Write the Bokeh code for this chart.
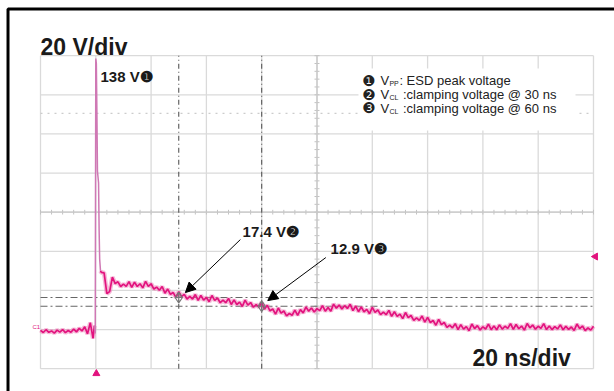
import numpy as np
from bokeh.plotting import figure
from bokeh.models import Range1d, Arrow, NormalHead
from bokeh.core.properties import value
from bokeh.embed import file_html
from bokeh.resources import INLINE

# ---------------- data ----------------
# time in ns (20 ns/div), voltage in V (20 V/div), 0 V = ground level
t_pre = list(range(-20, 0))
v_pre = [0.6, -0.5, 0.9, -0.4, 0.3, -0.8, 0.7, -0.3, 1.0, -0.6,
         0.5, -0.4, 1.2, -0.2, 1.6, 0.3, 2.4, -1.2, 4.5, -3.5]

t_spike = [-0.5, -0.2, 0.0, 0.2, 0.4, 0.6, 0.8, 1.0, 1.2, 1.4, 1.7]
v_spike = [3.0, -1.0, 139.5, 137.0, 112.0, 82.0, 79.0, 76.0, 52.0, 37.0, 31.0]

v_post = [30.2, 30.0, 19.4, 20.4, 27.8, 24.5, 25.4, 23.0,
          24.2, 23.1, 25.5, 22.6, 25.2, 23.0, 24.4, 22.3, 25.6, 23.1,
          24.4, 21.7, 22.7, 21.1, 23.0, 19.6, 21.7, 19.0, 19.9, 17.4,
          20.3, 17.8, 19.0, 16.6, 17.9, 16.6, 18.9, 15.9, 18.4, 16.1,
          17.4, 15.2, 18.4, 15.9, 17.1, 14.7, 16.0, 14.7, 16.9, 13.8,
          16.2, 13.8, 15.0, 12.8, 16.0, 13.5, 14.8, 12.4, 13.8, 12.5,
          14.8, 11.4, 13.4, 10.6, 11.5, 8.9, 12.0, 9.4, 10.5, 8.0,
          9.2, 8.3, 10.9, 8.3, 11.2, 9.5, 12.5, 10.4, 12.0, 10.0,
          11.7, 10.7, 13.2, 10.4, 12.3, 10.4, 14.0, 11.9, 13.5, 11.5,
          13.2, 11.8, 13.9, 10.7, 13.0, 10.1, 12.5, 10.1, 11.3, 9.1,
          12.3, 9.8, 11.0, 8.6, 9.9, 8.6, 10.8, 7.7, 10.1, 7.7,
          8.9, 6.6, 9.7, 7.1, 8.2, 5.7, 7.0, 5.7, 7.9, 4.8,
          7.2, 4.6, 5.6, 3.2, 6.2, 3.5, 4.6, 2.1, 3.3, 1.9,
          4.0, 1.0, 3.5, 1.2, 2.5, 0.4, 3.8, 1.5, 3.0, 0.8,
          2.4, 1.3, 3.8, 0.9, 2.8, 0.9, 3.4, 1.2, 2.7, 1.6,
          4.0, 1.1, 3.6, 1.4, 2.8, 0.7, 4.1, 1.9, 3.3, 1.2,
          2.7, 1.6, 4.0, 1.0, 2.8, 1.0, 2.5, 1.3, 3.4, 0.9,
          2.6, 1.1, 2.3, 0.5, 3.8, 1.5, 2.8, 0.5, 1.9, 0.7,
          2.7]
t_post = list(range(2, 2 + len(v_post)))

time_divs = [-20, 0, 20, 40, 60, 80, 100, 120, 140, 160, 180]
volt_divs = [-19, 1, 21, 41, 61, 81, 101, 121, 141]
center_time = 80
center_volt = 61
cursor_times = [30, 60]
cursor_volts = [17.4, 12.9]
ref_level = 111.5
trig_time = 0.2
trig_level = 38.3

title_v = "20 V/div"
title_t = "20 ns/div"
peak_label = "138 V\u2776"
cl30_label = "17.4 V\u2777"
cl60_label = "12.9 V\u2778"
legend_nums = ["\u2776", "\u2777", "\u2778"]
legend_v = ["V", "V", "V"]
legend_sub = ["PP", "CL", "CL"]
legend_txt = [": ESD peak voltage",
              "\u00a0:clamping voltage\u00a0@\u00a030 ns",
              "\u00a0:clamping voltage\u00a0@\u00a060 ns"]

# ---------------- figure ----------------
X0, X1 = -34.467, 187.60
Y0, Y1 = -30.67, 169.20
p = figure(width=614, height=391, x_range=Range1d(X0, X1), y_range=Range1d(Y0, Y1),
           output_backend="svg", toolbar_location=None, min_border=0,
           x_axis_type=None, y_axis_type=None)
p.outline_line_color = None
p.background_fill_color = "white"
p.border_fill_color = "white"

FONT = value("Liberation Sans")
TRACE = "#e2137e"
GRID = "#dadada"

tmin, tmax = time_divs[0], time_divs[-1]
vmin, vmax = volt_divs[0], volt_divs[-1]

# grid
p.segment(x0=time_divs, y0=[vmin] * len(time_divs), x1=time_divs, y1=[vmax] * len(time_divs),
          line_color=GRID, line_width=1.3)
p.segment(x0=[tmin] * len(volt_divs), y0=volt_divs, x1=[tmax] * len(volt_divs), y1=volt_divs,
          line_color=GRID, line_width=1.3)
# center cross minor ticks
tk_t = list(np.arange(tmin, tmax + 0.1, 4.0))
tk_v = list(np.arange(vmin, vmax + 0.1, 4.0))
p.segment(x0=tk_t, y0=[center_volt - 1.2] * len(tk_t), x1=tk_t, y1=[center_volt + 1.2] * len(tk_t),
          line_color="#c2c2c2", line_width=1)
p.segment(x0=[center_time - 0.9] * len(tk_v), y0=tk_v, x1=[center_time + 0.9] * len(tk_v), y1=tk_v,
          line_color="#c2c2c2", line_width=1)
p.segment(x0=[tmin], y0=[center_volt], x1=[tmax], y1=[center_volt], line_color="#c8c8c8", line_width=1.3)
p.segment(x0=[center_time], y0=[vmin], x1=[center_time], y1=[vmax], line_color="#c8c8c8", line_width=1.3)
# reference dotted line
p.segment(x0=[tmin], y0=[ref_level], x1=[tmax], y1=[ref_level], line_color="#cccccc",
          line_width=1.2, line_dash="2 5")

# legend background box
p.quad(left=[95.0], right=[173.5], bottom=[102.7], top=[134.4], fill_color="white", line_color=None)

# cursors
p.segment(x0=cursor_times, y0=[vmin] * 2, x1=cursor_times, y1=[vmax] * 2,
          line_color="#555555", line_width=1.1, line_dash="5 3 1 3")
p.segment(x0=[tmin] * 2, y0=cursor_volts, x1=[tmax] * 2, y1=cursor_volts,
          line_color="#666666", line_width=1.1, line_dash="7 3 2 3")

# trace: soft halo + core line
p.line(t_pre + [t_spike[0]], v_pre + [v_spike[0]], line_color="#ee74b2", line_width=4.5, line_alpha=0.5)
p.line([t_spike[-1]] + t_post, [v_spike[-1]] + v_post, line_color="#ee74b2", line_width=4.5, line_alpha=0.5)
p.line(t_pre + [t_spike[0]], v_pre + [v_spike[0]], line_color=TRACE, line_width=1.7)
p.line(t_spike, v_spike, line_color="#cf78b4", line_width=1.5)
p.line([t_spike[-1]] + t_post, [v_spike[-1]] + v_post, line_color=TRACE, line_width=1.7)

# cursor markers
p.scatter(cursor_times, cursor_volts, marker="diamond_cross", size=11, fill_color=None,
          line_color="#777777", line_width=1.2)

# trigger markers
p.scatter([trig_time], [vmin - 2.5], marker="triangle", size=7, color=TRACE)
p.scatter([tmax + 0.7], [trig_level], marker="triangle", angle=np.pi / 2, size=7, color=TRACE)
p.text(x=[-22.9], y=[2.3], text=["C1"], text_font=FONT, text_font_size="6px",
       text_color=TRACE, text_baseline="middle", text_align="left")

# outer black frame (left & top)
p.line([-31.75, -31.75, X1], [Y0, 164.86, 164.86], line_color="black", line_width=3)

# titles
p.text(x=[tmin], y=[145.2], text=[title_v], text_font=FONT, text_font_size="23px",
       text_font_style="bold", text_color="#1a1a1a", text_baseline="alphabetic", text_align="left")
p.text(x=[136.2], y=[-13.8], text=[title_t], text_font=FONT, text_font_size="23px",
       text_font_style="bold", text_color="#1a1a1a", text_baseline="alphabetic", text_align="left")

# value labels
p.text(x=[1.7], y=[130.4], text=[peak_label], text_font=FONT, text_font_size="15px",
       text_font_style="bold", text_color="#1a1a1a", text_baseline="alphabetic", text_align="left")
p.text(x=[53.1, 84.9], y=[51.1, 42.4], text=[cl30_label, cl60_label], text_font=FONT,
       text_font_size="15px", text_font_style="bold", text_color="#1a1a1a",
       text_baseline="middle", text_align="left")

# arrows
for xs, ys, xe, ye in [(52.3, 47.0, 32.4, 19.9), (83.2, 37.8, 62.2, 15.8)]:
    p.add_layout(Arrow(end=NormalHead(size=10, fill_color="black", line_color="black"),
                       x_start=xs, y_start=ys, x_end=xe, y_end=ye,
                       line_color="black", line_width=1))

# legend text
rows = [128.3, 121.1, 114.0]
p.text(x=[96.4] * 3, y=rows, text=legend_nums, text_font=value("DejaVu Sans"), text_font_size="15px",
       text_color="#222222", text_baseline="middle", text_align="left")
p.text(x=[103.0] * 3, y=rows, text=legend_v, text_font=FONT, text_font_size="13px",
       text_color="#222222", text_baseline="middle", text_align="left")
p.text(x=[106.2] * 3, y=[r - 1.6 for r in rows], text=legend_sub, text_font=FONT, text_font_size="7px",
       text_color="#222222", text_baseline="middle", text_align="left")
p.text(x=[109.8] * 3, y=rows, text=legend_txt, text_font=FONT, text_font_size="13px",
       text_color="#222222", text_baseline="middle", text_align="left")

open("out.html", "w").write(file_html(p, INLINE))
